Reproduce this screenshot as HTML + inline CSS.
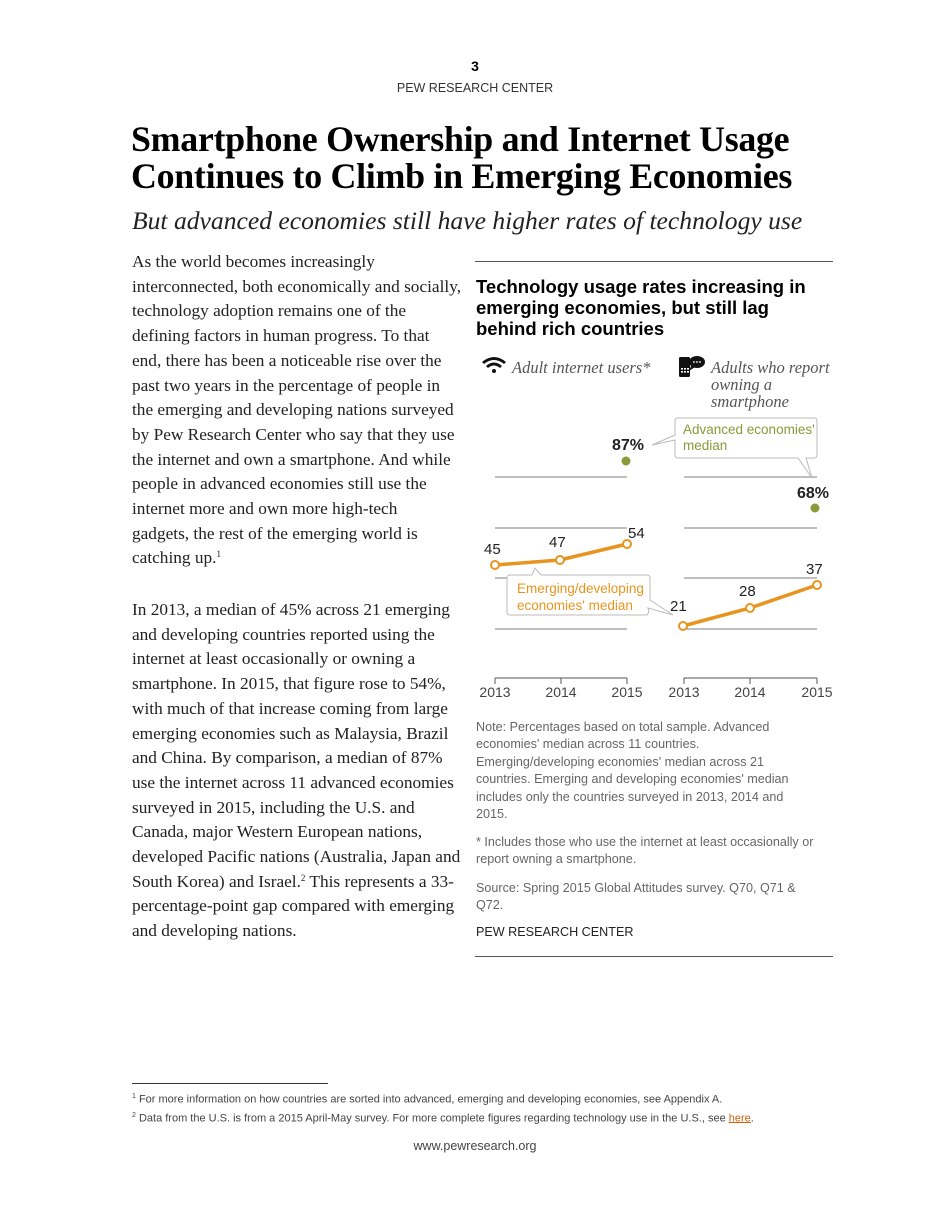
<!DOCTYPE html>
<html><head><meta charset="utf-8"><style>
body{margin:0;width:950px;height:1230px;background:#fff;position:relative;overflow:hidden;font-family:"Liberation Sans",sans-serif;color:#000}
.a{position:absolute;white-space:nowrap}
.s{font-family:"Liberation Serif",serif}
.bt{font-family:"Liberation Serif",serif;font-size:17.3px;line-height:24.7px;color:#222}
.bt sup{font-size:9px;line-height:0;vertical-align:6px}
.note{font-size:12.6px;line-height:17.4px;color:#666}
</style></head><body>
<div class="a" style="left:0;width:950px;text-align:center;top:58px;font-weight:bold;font-size:14px">3</div>
<div class="a" style="left:0;width:950px;text-align:center;top:81px;font-size:12.5px;color:#333">PEW RESEARCH CENTER</div>
<div class="a s" style="left:131px;top:121px;font-size:35.9px;font-weight:bold;line-height:37px;letter-spacing:-0.3px">Smartphone Ownership and Internet Usage<br>Continues to Climb in Emerging Economies</div>
<div class="a s" style="left:132px;top:206px;font-size:25.6px;font-style:italic;color:#222">But advanced economies still have higher rates of technology use</div>

<div class="a bt" style="left:132px;top:250px">As the world becomes increasingly<br>interconnected, both economically and socially,<br>technology adoption remains one of the<br>defining factors in human progress. To that<br>end, there has been a noticeable rise over the<br>past two years in the percentage of people in<br>the emerging and developing nations surveyed<br>by Pew Research Center who say that they use<br>the internet and own a smartphone. And while<br>people in advanced economies still use the<br>internet more and own more high-tech<br>gadgets, the rest of the emerging world is<br>catching up.<sup>1</sup></div>
<div class="a bt" style="left:132px;top:598px">In 2013, a median of 45% across 21 emerging<br>and developing countries reported using the<br>internet at least occasionally or owning a<br>smartphone. In 2015, that figure rose to 54%,<br>with much of that increase coming from large<br>emerging economies such as Malaysia, Brazil<br>and China. By comparison, a median of 87%<br>use the internet across 11 advanced economies<br>surveyed in 2015, including the U.S. and<br>Canada, major Western European nations,<br>developed Pacific nations (Australia, Japan and<br>South Korea) and Israel.<sup>2</sup> This represents a 33-<br>percentage-point gap compared with emerging<br>and developing nations.</div>

<div class="a" style="left:475px;top:261px;width:358px;border-top:1px solid #555"></div>
<div class="a" style="left:476px;top:276px;font-size:18.5px;font-weight:bold;line-height:21px">Technology usage rates increasing in<br>emerging economies, but still lag<br>behind rich countries</div>

<svg class="a" style="left:0;top:0" width="950" height="1230">
<g stroke="#999" stroke-width="1.2">
<line x1="495" y1="477" x2="627" y2="477"/><line x1="495" y1="528" x2="627" y2="528"/><line x1="495" y1="578" x2="627" y2="578"/><line x1="495" y1="629" x2="627" y2="629"/>
<line x1="684" y1="477" x2="817" y2="477"/><line x1="684" y1="528" x2="817" y2="528"/><line x1="684" y1="578" x2="817" y2="578"/><line x1="684" y1="629" x2="817" y2="629"/>
</g>
<g stroke="#555" stroke-width="1">
<line x1="495" y1="678" x2="627" y2="678"/><line x1="684" y1="678" x2="817" y2="678"/>
<line x1="495" y1="678" x2="495" y2="684"/><line x1="561" y1="678" x2="561" y2="684"/><line x1="627" y1="678" x2="627" y2="684"/>
<line x1="684" y1="678" x2="684" y2="684"/><line x1="750" y1="678" x2="750" y2="684"/><line x1="817" y1="678" x2="817" y2="684"/>
</g>
<g font-family="Liberation Sans" font-size="14" fill="#444" text-anchor="middle">
<text x="495" y="697">2013</text><text x="561" y="697">2014</text><text x="627" y="697">2015</text>
<text x="684" y="697">2013</text><text x="750" y="697">2014</text><text x="817" y="697">2015</text>
</g>
<polyline points="495,565 560,560 627,544" fill="none" stroke="#E8951F" stroke-width="3.5"/>
<polyline points="683,626 750,608 817,585" fill="none" stroke="#E8951F" stroke-width="3.5"/>
<g fill="#fff" stroke="#E8951F" stroke-width="2">
<circle cx="495" cy="565" r="4"/><circle cx="560" cy="560" r="4"/><circle cx="627" cy="544" r="4"/>
<circle cx="683" cy="626" r="4"/><circle cx="750" cy="608" r="4"/><circle cx="817" cy="585" r="4"/>
</g>
<circle cx="626" cy="461" r="4.5" fill="#8A9A3A"/><circle cx="815" cy="508" r="4.5" fill="#8A9A3A"/>
<g font-family="Liberation Sans" font-size="15" fill="#222">
<text x="484" y="554">45</text><text x="549" y="547">47</text><text x="628" y="538">54</text>
<text x="670" y="611">21</text><text x="739" y="596">28</text><text x="806" y="574">37</text>
<text x="612" y="450" font-weight="bold" font-size="16">87%</text>
<text x="797" y="498" font-weight="bold" font-size="16">68%</text>
</g>
<path d="M678,418 H814 Q817,418 817,421 V455 Q817,458 814,458 H806 L812,478 L798,458 H678 Q675,458 675,455 V440 L652,445 L675,435 V421 Q675,418 678,418 Z" fill="#fff" stroke="#bbb" stroke-width="1"/>
<text x="683" y="434" font-family="Liberation Sans" font-size="13.5" fill="#8A9A3A">Advanced economies'</text>
<text x="683" y="450" font-family="Liberation Sans" font-size="13.5" fill="#8A9A3A">median</text>
<path d="M510,575 H532 L535,568 L541,575 H647 Q650,575 650,578 V600 L673,615 L648,608 Q650,612 647,615 H510 Q507,615 507,612 V578 Q507,575 510,575 Z" fill="#fff" stroke="#bbb" stroke-width="1"/>
<text x="517" y="593" font-family="Liberation Sans" font-size="13.5" fill="#E8951F">Emerging/developing</text>
<text x="517" y="610" font-family="Liberation Sans" font-size="13.5" fill="#E8951F">economies' median</text>
<g fill="#111">
<path d="M482,362 Q494,352 506,362 L504,364 Q494,356 484,364 Z"/>
<path d="M486,366 Q494,359 502,366 L500,368 Q494,363 488,368 Z"/>
<circle cx="494" cy="371" r="2"/>
<rect x="679" y="357" width="11" height="20" rx="1.5"/>
<ellipse cx="697" cy="362" rx="8" ry="6"/><path d="M691,366 L689,371 L695,367 Z"/>
</g>
<g fill="#fff"><circle cx="694" cy="362" r="0.9"/><circle cx="697" cy="362" r="0.9"/><circle cx="700" cy="362" r="0.9"/>
<rect x="681" y="368" width="2" height="1.6"/><rect x="684" y="368" width="2" height="1.6"/><rect x="687" y="368" width="2" height="1.6"/>
<rect x="681" y="371" width="2" height="1.6"/><rect x="684" y="371" width="2" height="1.6"/><rect x="687" y="371" width="2" height="1.6"/></g>
<g font-family="Liberation Serif" font-style="italic" font-size="16.5" fill="#555">
<text x="512" y="373">Adult internet users*</text>
<text x="711" y="373">Adults who report</text><text x="711" y="390">owning a</text><text x="711" y="407">smartphone</text>
</g>
</svg>

<div class="a note" style="left:476px;top:719px">Note: Percentages based on total sample. Advanced<br>economies' median across 11 countries.<br>Emerging/developing economies' median across 21<br>countries. Emerging and developing economies' median<br>includes only the countries surveyed in 2013, 2014 and<br>2015.</div>
<div class="a note" style="left:476px;top:834px">* Includes those who use the internet at least occasionally or<br>report owning a smartphone.</div>
<div class="a note" style="left:476px;top:880px">Source: Spring 2015 Global Attitudes survey. Q70, Q71 &amp;<br>Q72.</div>
<div class="a" style="left:476px;top:925px;font-size:12.6px;color:#222">PEW RESEARCH CENTER</div>
<div class="a" style="left:475px;top:956px;width:358px;border-top:1px solid #555"></div>

<div class="a" style="left:132px;top:1083px;width:196px;border-top:1px solid #333"></div>
<div class="a" style="left:132px;top:1089px;font-size:11px;color:#444;line-height:16px"><sup style="font-size:7px">1</sup> For more information on how countries are sorted into advanced, emerging and developing economies, see Appendix A.<br><sup style="font-size:7px">2</sup> Data from the U.S. is from a 2015 April-May survey. For more complete figures regarding technology use in the U.S., see <span style="color:#c8640a;text-decoration:underline">here</span>.</div>
<div class="a" style="left:0;width:950px;text-align:center;top:1139px;font-size:12.5px;color:#444">www.pewresearch.org</div>
</body></html>
